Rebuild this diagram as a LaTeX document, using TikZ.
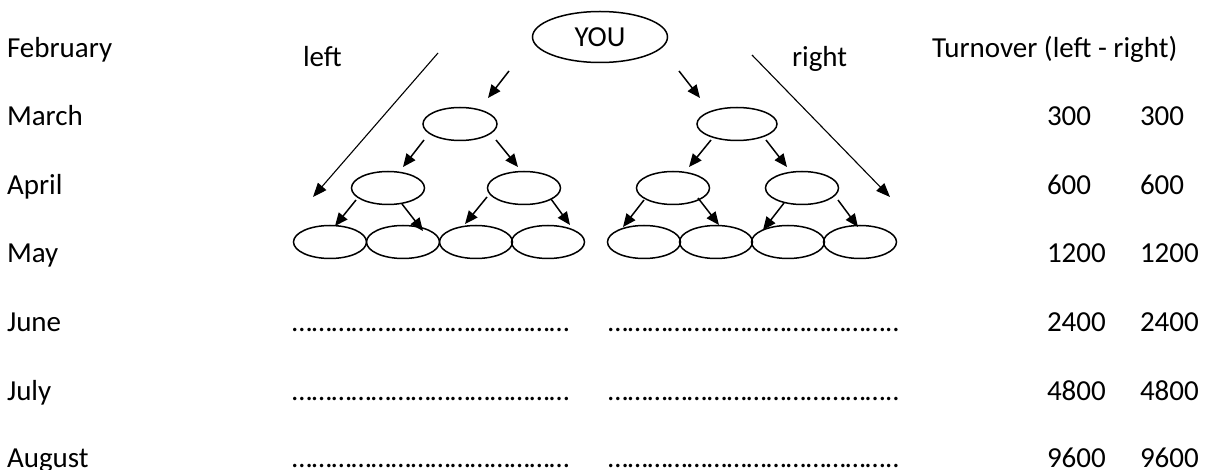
\documentclass[tikz,border=0pt]{standalone}
\usepackage{fontspec}
\setmainfont{Carlito}
\usetikzlibrary{arrows.meta,calc,shapes.geometric}
\newcommand\dotrun[1]{\foreach \k in {1,...,#1}{…}}
\begin{document}
\begin{tikzpicture}[x=1pt,y=-1pt,
  every node/.style={font=\fontsize{29}{35}\selectfont, inner sep=0pt, outer sep=0pt},
  txt/.style={anchor=base west},
  dots/.style={anchor=base west, font=\fontsize{28.7}{34}\selectfont},
  bubble/.style={draw, ellipse, line width=1.5pt, minimum width=73pt, minimum height=33pt},
  link/.style={line width=1.5pt, -{Triangle[length=13pt,width=11pt]}},
  longlink/.style={line width=1.1pt, -{Triangle[length=14pt,width=11pt]}}
]
\useasboundingbox[fill=white] (0,0) rectangle (1205,470);

% month labels
\node[txt] (feb) at (7,58)  {February};
\node[txt] (mar) at (7,126) {March};
\node[txt] (apr) at (7,195) {April};
\node[txt] (may) at (7,263) {May};
\node[txt] (jun) at (7,331) {June};
\node[txt] (jul) at (7,400) {July};
\node[txt] (aug) at (7,467) {August};

% column headings
\node[txt] (lft) at (303,67) {left};
\node[txt] (rgt) at (792,67) {right};
\node[txt] (turn) at (932,58) {Turnover (left - right)};

% turnover figures
\foreach \y/\v [count=\i] in {126/300,195/600,263/1200,331/2400,400/4800,467/9600}{
  \node[txt] (tl\i) at (1047,\y) {\v};
  \node[txt] (tr\i) at (1140,\y) {\v};
}

% blank lines for later months
\foreach \y [count=\i] in {331,400,467}{
  \node[dots] (dl\i) at (292,\y) {\dotrun{14}};
  \node[dots] (dr\i) at (608,\y) {\dotrun{14}..};
}

% the tree
\node[bubble, minimum width=135pt, minimum height=51pt] (YOU) at (600,37) {\raisebox{-3pt}{YOU}};
\node[bubble, minimum width=74pt] (L1a) at (460,124) {};
\node[bubble, minimum width=80pt] (L1b) at (737,124) {};
\node[bubble] (L2a) at (388,188) {};
\node[bubble] (L2b) at (524,188) {};
\node[bubble] (L2c) at (673,188) {};
\node[bubble] (L2d) at (802,188) {};
\foreach \x [count=\i] in {330,403,476,548,644,716,788,860}{
  \node[bubble] (L3\i) at (\x,242) {};
}

% links between generations
\draw[link] ($(YOU)+(-91,34)$) -- ($(L1a)+(28,-26)$);
\draw[link] ($(YOU)+(79,34)$)  -- ($(L1b)+(-37,-26)$);
\draw[link] ($(L1a)+(-36,16)$) -- ($(L2a)+(15,-21)$);
\draw[link] ($(L1a)+(36,16)$)  -- ($(L2b)+(-6,-21)$);
\draw[link] ($(L1b)+(-26,16)$) -- ($(L2c)+(16,-21)$);
\draw[link] ($(L1b)+(29,16)$)  -- ($(L2d)+(-15,-21)$);
\draw[link] ($(L2a)+(-32,12)$) -- ($(L31)+(5,-16)$);
\draw[link] ($(L2a)+(14,16)$)  -- ($(L32)+(20,-11)$);
\draw[link] ($(L2b)+(-37,9)$)  -- ($(L33)+(-11,-18)$);
\draw[link] ($(L2b)+(27,11)$)  -- ($(L34)+(22,-17)$);
\draw[link] ($(L2c)+(-29,12)$) -- ($(L35)+(-21,-15)$);
\draw[link] ($(L2c)+(25,10)$)  -- ($(L36)+(3,-17)$);
\draw[link] ($(L2d)+(-18,15)$) -- ($(L37)+(-25,-12)$);
\draw[link] ($(L2d)+(36,12)$)  -- ($(L38)+(-2,-15)$);

% long side arrows
\coordinate (ls) at (438,53);
\coordinate (le) at (313,197);
\coordinate (rs) at (752,55);
\coordinate (re) at (890,197);
\draw[longlink] (ls) -- (le);
\draw[longlink] (rs) -- (re);
\end{tikzpicture}
\end{document}
